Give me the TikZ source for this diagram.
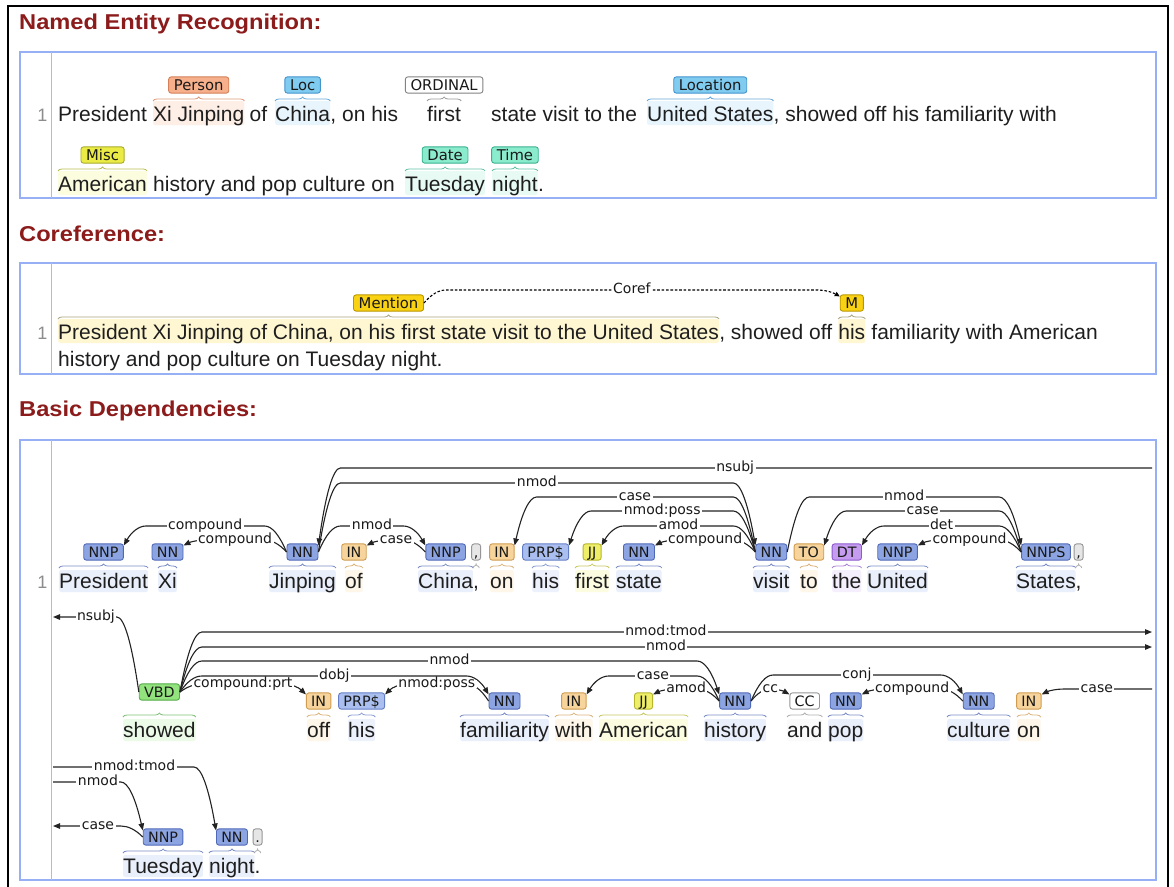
\documentclass[tikz,border=0pt]{standalone}
\usepackage{fontspec}
\setmainfont{Liberation Sans}
\newfontfamily\labfont{DejaVu Sans}
\usetikzlibrary{calc,arrows.meta,decorations.pathreplacing}

\definecolor{hdrc}{RGB}{140,28,28}
\definecolor{txtc}{RGB}{30,30,30}
\definecolor{boxc}{RGB}{150,175,245}
\definecolor{gridc}{RGB}{188,188,188}
\definecolor{numc}{RGB}{140,140,140}
\definecolor{arcc}{RGB}{35,35,35}
% POS classes
\definecolor{NNF}{RGB}{140,165,226}\definecolor{NND}{RGB}{80,105,182}\definecolor{NNL}{RGB}{233,239,251}
\definecolor{PRF}{RGB}{170,191,240}\definecolor{PRD}{RGB}{100,126,198}\definecolor{PRL}{RGB}{236,241,252}
\definecolor{INF}{RGB}{246,212,155}\definecolor{IND}{RGB}{208,156,80}\definecolor{INL}{RGB}{254,246,232}
\definecolor{JJF}{RGB}{238,238,105}\definecolor{JJD}{RGB}{182,182,45}\definecolor{JJL}{RGB}{252,252,225}
\definecolor{DTF}{RGB}{198,156,240}\definecolor{DTD}{RGB}{142,90,205}\definecolor{DTL}{RGB}{245,238,252}
\definecolor{VBF}{RGB}{146,226,125}\definecolor{VBD}{RGB}{82,172,72}\definecolor{VBL}{RGB}{236,250,232}
\definecolor{CCF}{RGB}{255,255,255}\definecolor{CCD}{RGB}{150,150,150}\definecolor{CCL}{RGB}{250,250,250}
\definecolor{PUF}{RGB}{230,230,230}\definecolor{PUD}{RGB}{150,150,150}\definecolor{PUL}{RGB}{255,255,255}
% NER classes
\definecolor{PERF}{RGB}{247,176,140}\definecolor{PERD}{RGB}{212,128,88}\definecolor{PERL}{RGB}{253,238,230}
\definecolor{LOCF}{RGB}{128,203,240}\definecolor{LOCD}{RGB}{68,148,205}\definecolor{LOCL}{RGB}{232,245,252}
\definecolor{ORDF}{RGB}{255,255,255}\definecolor{ORDD}{RGB}{130,130,130}\definecolor{ORDL}{RGB}{255,255,255}
\definecolor{MSCF}{RGB}{235,235,70}\definecolor{MSCD}{RGB}{170,170,40}\definecolor{MSCL}{RGB}{252,252,222}
\definecolor{DATF}{RGB}{138,235,205}\definecolor{DATD}{RGB}{58,178,143}\definecolor{DATL}{RGB}{232,250,244}
\definecolor{CORF}{RGB}{250,210,20}\definecolor{CORD}{RGB}{185,150,0}\definecolor{CORL}{RGB}{255,247,210}
\definecolor{CORB}{RGB}{170,165,130}

\tikzset{
  plain/.style={anchor=base west,inner sep=0pt,font=\fontsize{21}{21}\selectfont,text=txtc},
  word/.style={plain,text height=18pt,text depth=4pt,rounded corners=2pt},
  nword/.style={plain,text height=20pt,text depth=4pt,rounded corners=2pt},
  tag/.style={font=\labfont\fontsize{14.3}{15}\selectfont,rounded corners=2.5pt,line width=0.9pt,
    inner xsep=4.8pt,inner ysep=3pt,text height=10.2pt,text depth=0pt,text=black!90},
  tNN/.style={tag,fill=NNF,draw=NND},
  tPR/.style={tag,fill=PRF,draw=PRD},
  tIN/.style={tag,fill=INF,draw=IND},
  tJJ/.style={tag,fill=JJF,draw=JJD},
  tDT/.style={tag,fill=DTF,draw=DTD},
  tVB/.style={tag,fill=VBF,draw=VBD},
  tCC/.style={tag,fill=CCF,draw=CCD},
  tPU/.style={tag,inner xsep=2.2pt,fill=PUF,draw=PUD},
  ent/.style={tag,font=\labfont\fontsize{14.8}{15}\selectfont,inner xsep=5.2pt},
  deparc/.style={line width=1.1pt,draw=arcc,-{Triangle[length=7pt,width=5.5pt]}},
  corarc/.style={line width=1.1pt,draw=black,dash pattern=on 2.6pt off 1.8pt,-{Triangle[length=5pt,width=4.5pt]}},
  arclab/.style={font=\labfont\fontsize{14}{14}\selectfont,fill=white,inner xsep=1.5pt,inner ysep=0pt,
    text height=7.7pt,text depth=0pt,text=black!90,anchor=center},
  tbr/.style={decorate,decoration={brace,amplitude=4pt},line width=0.8pt},
  hdr/.style={anchor=base west,inner sep=0pt,font=\fontsize{21.5}{22}\selectfont\bfseries,text=hdrc},
  lnum/.style={anchor=base east,inner sep=0pt,font=\fontsize{18}{18}\selectfont,text=numc},
  panel/.style={draw=boxc,line width=1.3pt},
}

% brace above a word
\newcommand\tbrace[2]{%
  \draw[tbr,draw=#2] let \p1=(#1.west), \p2=(#1.east), \p3=($(#1.base)+(0,-20)$) in (\x1,\y3) -- (\x2,\y3);}
% dependency token: [offset]{id}{x}{baseline}{word}{tag}{class}
\newcommand\dtok[7][-36]{%
  \node[word,fill=#7L] (#2) at (#3,#4) {#5};
  \node[t#7] (#2t) at ($(#2.base)+(0,#1)$) {#6};
  \tbrace{#2}{#7D!75}}
% entity token: {id}{x}{baseline}{word}{label}{class}
\newcommand\etok[6]{%
  \node[nword,fill=#6L] (#1) at (#2,#3) {#4};
  \node[ent,fill=#6F,draw=#6D] (#1t) at ($(#1.base)+(0,-36)$) {#5};
  \tbrace{#1}{#6D!80}}
% arc: [opts]{start}{end}{height}{label}
\newcommand\darc[5][]{%
  \draw[deparc,#1] let \p1=(#2), \p2=(#3), \p3=(0,#4),
      \n1={sign(\x2-\x1)*min(22,abs(\x2-\x1)/2)} in
    (\p1) .. controls ({\x1+(\n1)/3},{\y1+2*(\y3-\y1)/3}) and ({\x1+2*(\n1)/3},\y3) .. ({\x1+(\n1)},\y3)
    -- ({\x2-(\n1)},\y3)
    .. controls ({\x2-2*(\n1)/3},\y3) and ({\x2-(\n1)/3},{\y2+2*(\y3-\y2)/3}) .. (\p2);
  \path let \p1=(#2), \p2=(#3), \p3=(0,#4) in node[arclab] at ({(\x1+\x2)/2},\y3) {#5};}

\begin{document}
\begin{tikzpicture}[x=1pt,y=-1pt]
\fill[white] (0,0) rectangle (1174,886);
\useasboundingbox (0,0) rectangle (1174,886);
\draw[line width=2.4pt,black] (8,892) -- (8,6) -- (1168,6) -- (1168,892);

% headings
\node[hdr] (hner) at (19,29) {\scalebox{1.1}[1]{Named Entity Recognition:}};
\node[hdr] (hcor) at (19,241) {\scalebox{1.1}[1]{Coreference:}};
\node[hdr] (hdep) at (19,416) {\scalebox{1.1}[1]{Basic Dependencies:}};

% panels
\draw[panel] (20,52) rectangle (1156,198);
\draw[gridc,line width=1.6pt] (51.5,52) -- (51.5,198);
\draw[panel] (20,263) rectangle (1156,374);
\draw[gridc,line width=1.6pt] (51.5,263) -- (51.5,374);
\draw[panel] (20,440) rectangle (1156,880);
\draw[gridc,line width=1.6pt] (51.5,440) -- (51.5,880);

% ===== NER =====
\node[lnum] (n1) at (47.5,121) {1};
\node[plain] (a1) at (58,121) {President};
\etok{a2}{153}{121}{Xi Jinping}{Person}{PER}
\node[plain] (a3) at (249.5,121) {of};
\etok{a4}{275}{121}{China}{Loc}{LOC}
\node[plain] (a5) at (a4.base east) {,\ on his};
\etok{a6}{427}{121}{first}{ORDINAL}{ORD}
\node[plain] (a7) at (491,121) {state visit to the};
\etok{a8}{647}{121}{United States}{Location}{LOC}
\node[plain] (a9) at (a8.base east) {,\ showed off his familiarity with};
\etok{b1}{58}{191}{American}{Misc}{MSC}
\node[plain] (b2) at (153,191) {history and pop culture on};
\etok{b3}{405}{191}{Tuesday}{Date}{DAT}
\etok{b4}{492}{191}{night}{Time}{DAT}
\node[plain] (b5) at (b4.base east) {.};

% ===== Coreference =====
\node[lnum] (n2) at (47.5,339) {1};
\node[nword,fill=CORL] (c1) at (58,339) {President Xi Jinping of China, on his first state visit to the United States};
\node[plain] (c2) at (c1.base east) {,\ showed off\ \null};
\node[nword,fill=CORL] (c3) at (c2.base east) {his};
\node[plain] (c4) at (c3.base east) {\null\ familiarity with American};
\node[plain] (c5) at (58,366) {history and pop culture on Tuesday night.};
\node[ent,fill=CORF,draw=CORD] (cm) at ($(c1.base)+(0,-36)$) {Mention};
\node[ent,fill=CORF,draw=CORD] (cM) at ($(c3.base)+(0,-36)$) {M};
\tbrace{c1}{CORB}
\tbrace{c3}{CORB}
\darc[corarc]{cm.east}{[yshift=-2pt]cM.north west}{290}{Coref}

% ===== Dependencies =====
\node[lnum] (n3) at (47.5,588) {1};
\dtok{d1}{59}{588}{President}{NNP}{NN}
\dtok{d2}{158}{588}{Xi}{NN}{NN}
\dtok{d3}{269}{588}{Jinping}{NN}{NN}
\dtok{d4}{345}{588}{of}{IN}{IN}
\dtok{d5}{418}{588}{China}{NNP}{NN}
\dtok{d6}{473}{588}{,}{,}{PU}
\dtok{d7}{490}{588}{on}{IN}{IN}
\dtok{d8}{532}{588}{his}{PRP\$}{PR}
\dtok{d9}{575}{588}{first}{JJ}{JJ}
\dtok{d10}{616}{588}{state}{NN}{NN}
\dtok{d11}{753}{588}{visit}{NN}{NN}
\dtok{d12}{800}{588}{to}{TO}{IN}
\dtok{d13}{832}{588}{the}{DT}{DT}
\dtok{d14}{867}{588}{United}{NNP}{NN}
\dtok{d15}{1016}{588}{States}{NNPS}{NN}
\dtok{d16}{1075.5}{588}{,}{,}{PU}

\dtok[-45]{e1}{123}{737}{showed}{VBD}{VB}
\dtok{e2}{307}{737}{off}{IN}{IN}
\dtok{e3}{348}{737}{his}{PRP\$}{PR}
\dtok{e4}{460}{737}{familiarity}{NN}{NN}
\dtok{e5}{555}{737}{with}{IN}{IN}
\dtok{e6}{599}{737}{American}{JJ}{JJ}
\dtok{e7}{704}{737}{history}{NN}{NN}
\dtok{e8}{787}{737}{and}{CC}{CC}
\dtok{e9}{828}{737}{pop}{NN}{NN}
\dtok{e10}{947}{737}{culture}{NN}{NN}
\dtok{e11}{1017}{737}{on}{IN}{IN}

\dtok{f1}{123}{873}{Tuesday}{NNP}{NN}
\dtok{f2}{209}{873}{night}{NN}{NN}
\dtok{f3}{254.5}{873}{.}{.}{PU}

\coordinate (r1a) at (1152,468);
\coordinate (l2a) at (53,617);
\coordinate (r2a) at (1152,632);
\coordinate (r2b) at (1152,647);
\coordinate (r2c) at (1152,689);
\coordinate (l3a) at (53,767);
\coordinate (l3b) at (53,782);
\coordinate (l3c) at (53,826);

% row 1 arcs
\darc{d3t.west}{[yshift=-2pt]d1t.north east}{526}{compound}
\darc{d3t.west}{[yshift=-2pt]d2t.north east}{540}{compound}
\darc{d3t.east}{[yshift=-2pt]d5t.north west}{526}{nmod}
\darc{d5t.west}{[yshift=-2pt]d4t.north east}{540}{case}
\darc{r1a}{[yshift=-2pt]d3t.north east}{468}{nsubj}
\darc{d3t.east}{[yshift=-2pt]d11t.north west}{483}{nmod}
\darc{d11t.west}{[yshift=-2pt]d7t.north east}{497}{case}
\darc{d11t.west}{[yshift=-2pt]d8t.north east}{511}{nmod:poss}
\darc{d11t.west}{[yshift=-2pt]d9t.north east}{526}{amod}
\darc{d11t.west}{[yshift=-2pt]d10t.north east}{540}{compound}
\darc{d11t.east}{[yshift=-2pt]d15t.north west}{497}{nmod}
\darc{d15t.west}{[yshift=-2pt]d12t.north east}{511}{case}
\darc{d15t.west}{[yshift=-2pt]d13t.north east}{526}{det}
\darc{d15t.west}{[yshift=-2pt]d14t.north east}{540}{compound}

% row 2 arcs
\darc{e1t.west}{l2a}{617}{nsubj}
\darc{e1t.east}{r2a}{632}{nmod:tmod}
\darc{e1t.east}{r2b}{647}{nmod}
\darc{e1t.east}{[yshift=-2pt]e7t.north west}{661}{nmod}
\darc{e1t.east}{[yshift=-2pt]e4t.north west}{676}{dobj}
\darc{e1t.east}{[yshift=-2pt]e2t.north west}{684}{compound:prt}
\darc{e4t.west}{[yshift=-2pt]e3t.north east}{684}{nmod:poss}
\darc{e7t.west}{[yshift=-2pt]e5t.north east}{676}{case}
\darc{e7t.west}{[yshift=-2pt]e6t.north east}{689}{amod}
\darc{e7t.east}{[yshift=-2pt]e8t.north west}{689}{cc}
\darc{e7t.east}{[yshift=-2pt]e10t.north west}{675}{conj}
\darc{e10t.west}{[yshift=-2pt]e9t.north east}{689}{compound}
\darc{r2c}{[yshift=-2pt]e11t.north east}{689}{case}

% row 3 arcs
\darc{l3a}{[yshift=-2pt]f2t.north west}{767}{nmod:tmod}
\darc{l3b}{[yshift=-2pt]f1t.north west}{782}{nmod}
\darc{f1t.west}{l3c}{826}{case}
\end{tikzpicture}
\end{document}
